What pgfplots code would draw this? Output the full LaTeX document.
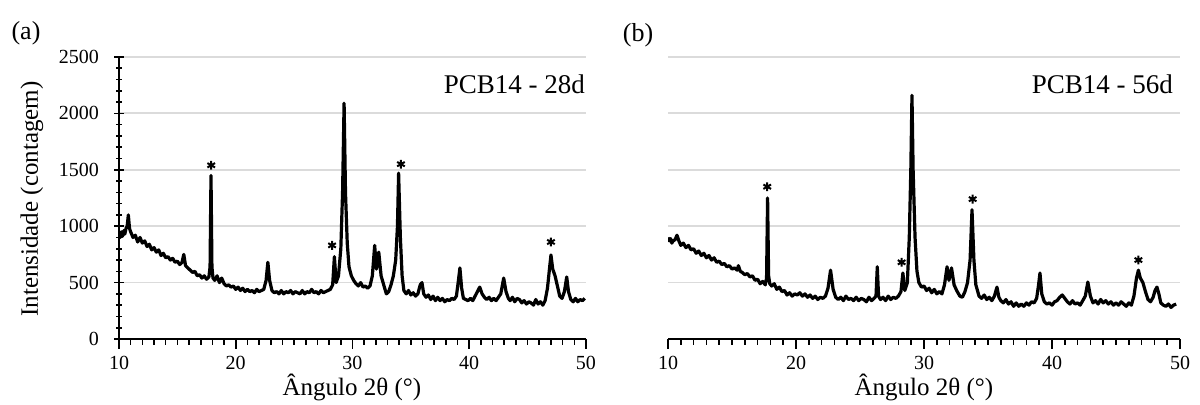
\documentclass[border=0pt]{standalone}
\usepackage{fontspec}
\setmainfont{Liberation Serif}
\usepackage{pgfplots}
\pgfplotsset{compat=1.18}

\pgfplotstableread{
x y
10.0 920
10.1 900
10.2 950
10.3 910
10.4 960
10.5 930
10.6 980
10.7 1000
10.8 1100
10.9 980
11.0 950
11.2 900
11.4 920
11.6 860
11.8 900
12.0 850
12.2 870
12.4 820
12.6 840
12.8 790
13.0 810
13.2 770
13.4 790
13.6 740
13.8 760
14.0 720
14.2 730
14.4 700
14.6 715
14.8 680
15.0 690
15.2 660
15.4 680
15.55 750
15.7 650
15.9 630
16.1 610
16.3 590
16.5 600
16.7 560
16.9 570
17.1 540
17.3 560
17.5 530
17.7 550
17.8 640
17.88 1450
17.96 640
18.05 540
18.2 520
18.4 560
18.6 500
18.8 540
19.0 490
19.2 470
19.4 480
19.6 460
19.8 470
20.0 440
20.2 460
20.4 430
20.6 450
20.8 420
21.0 440
21.2 420
21.4 430
21.6 410
21.8 440
22.0 420
22.2 430
22.4 440
22.6 520
22.75 680
22.9 520
23.1 430
23.3 410
23.5 420
23.7 400
23.9 430
24.1 400
24.3 420
24.5 410
24.7 430
24.9 400
25.1 420
25.3 410
25.5 400
25.7 430
25.9 400
26.1 420
26.3 410
26.5 440
26.7 410
26.9 420
27.1 400
27.3 430
27.5 410
27.7 420
27.9 430
28.1 440
28.3 480
28.45 730
28.6 500
28.8 560
29.0 800
29.15 1300
29.28 2090
29.4 1300
29.55 850
29.7 640
29.9 560
30.1 520
30.3 490
30.5 470
30.7 500
30.9 460
31.1 470
31.3 450
31.5 470
31.7 560
31.9 830
32.05 620
32.25 770
32.45 560
32.7 470
32.9 400
33.1 420
33.3 480
33.5 560
33.7 700
33.85 1000
33.95 1470
34.1 900
34.25 560
34.4 430
34.6 400
34.8 430
35.0 390
35.2 410
35.4 380
35.6 400
35.8 480
35.95 500
36.1 400
36.3 370
36.5 390
36.7 350
36.9 380
37.1 340
37.3 370
37.5 340
37.7 360
37.9 330
38.1 350
38.3 340
38.5 360
38.7 350
38.9 380
39.05 500
39.2 630
39.35 450
39.5 360
39.7 350
39.9 340
40.1 360
40.3 340
40.5 380
40.7 420
40.9 460
41.1 400
41.3 370
41.5 350
41.7 370
41.9 340
42.1 360
42.3 340
42.5 370
42.7 400
42.95 540
43.15 420
43.35 360
43.5 340
43.7 370
43.9 330
44.1 360
44.3 350
44.5 320
44.7 340
44.9 310
45.1 330
45.3 320
45.5 300
45.7 350
45.9 310
46.1 330
46.3 300
46.5 340
46.7 450
46.9 650
47.0 745
47.15 620
47.35 560
47.55 470
47.75 380
47.95 360
48.15 420
48.35 550
48.5 420
48.7 350
48.9 330
49.1 360
49.3 330
49.5 350
49.7 340
49.9 360
}\dataA

\pgfplotstableread{
x y
10.0 900
10.1 870
10.2 890
10.3 850
10.4 870
10.55 880
10.7 920
10.85 870
11.0 830
11.2 850
11.4 810
11.6 830
11.8 790
12.0 800
12.2 760
12.4 780
12.6 740
12.8 760
13.0 720
13.2 740
13.4 700
13.6 720
13.8 680
14.0 690
14.2 660
14.4 670
14.6 640
14.8 650
15.0 620
15.2 630
15.4 610
15.5 650
15.65 600
15.8 590
16.0 570
16.2 580
16.4 550
16.6 560
16.8 520
17.0 530
17.2 490
17.4 510
17.6 480
17.7 540
17.78 1250
17.86 560
17.95 490
18.1 470
18.3 490
18.5 440
18.7 460
18.9 420
19.1 430
19.3 390
19.5 410
19.7 380
19.9 400
20.1 390
20.3 410
20.5 380
20.7 400
20.9 370
21.1 390
21.3 360
21.5 380
21.7 350
21.9 370
22.1 360
22.3 380
22.5 450
22.7 610
22.9 440
23.1 370
23.3 350
23.5 370
23.7 340
23.9 380
24.1 350
24.3 360
24.5 340
24.7 370
24.9 340
25.1 360
25.3 350
25.5 330
25.7 370
25.9 340
26.1 360
26.25 380
26.35 640
26.45 380
26.6 350
26.8 370
27.0 340
27.2 380
27.4 350
27.6 370
27.8 360
28.0 380
28.2 420
28.35 585
28.5 430
28.7 500
28.85 900
28.97 1500
29.06 2160
29.15 1500
29.3 900
29.45 600
29.6 500
29.8 460
30.0 470
30.2 430
30.4 450
30.6 410
30.8 440
31.0 400
31.2 420
31.4 400
31.6 480
31.8 640
31.95 520
32.15 630
32.35 480
32.55 430
32.8 380
33.0 370
33.2 420
33.4 500
33.6 700
33.75 1145
33.9 700
34.05 480
34.3 380
34.5 360
34.7 390
34.9 350
35.1 370
35.3 340
35.5 380
35.7 460
35.85 370
36.0 340
36.2 320
36.4 350
36.6 310
36.8 330
37.0 290
37.2 320
37.4 290
37.6 310
37.8 290
38.0 320
38.2 300
38.4 330
38.6 320
38.8 360
38.95 480
39.06 585
39.2 400
39.4 330
39.6 310
39.8 320
40.0 300
40.2 330
40.4 340
40.6 370
40.8 390
41.0 360
41.2 330
41.4 310
41.6 340
41.8 310
42.0 320
42.2 300
42.4 340
42.6 380
42.8 505
43.0 380
43.2 320
43.4 340
43.6 310
43.8 350
44.0 320
44.2 340
44.4 310
44.6 330
44.8 300
45.0 320
45.2 300
45.4 330
45.6 310
45.8 290
46.0 320
46.2 300
46.4 380
46.6 540
46.75 610
46.9 540
47.1 500
47.3 420
47.5 350
47.7 330
47.9 370
48.05 430
48.2 460
48.35 400
48.5 320
48.7 300
48.9 290
49.1 310
49.3 280
49.5 300
49.7 310
}\dataB

\pgfplotstableread{
x y
17.9 1540
28.25 830
34.15 1550
47.0 860
}\starsA

\pgfplotstableread{
x y
17.75 1350
28.25 680
33.8 1240
46.75 700
}\starsB

\pgfplotsset{
  xrd/.style={
    scale only axis, height=141pt,
    xmin=10, xmax=50, ymin=0, ymax=2500,
    axis x line=bottom,
    xtick={10,20,...,50}, minor x tick num=9,
    ytick={0,500,...,2500},
    tick align=outside,
    major tick length=5pt, minor tick length=3pt,
    tick style={black, line width=0.8pt},
    ymajorgrids,
    grid style={black!14, line width=0.9pt},
    /pgf/number format/assume math mode=true,
    /pgf/number format/1000 sep={},
    scaled ticks=false,
    ticklabel style={font=\fontsize{10}{12}\selectfont},
  },
  xrdline/.style={black, line width=1.6pt, line join=round, no marks},
  xrdstar/.style={only marks, mark=asterisk, mark size=2.2pt, mark options={black, line width=1pt}},
}

\begin{document}
\begin{tikzpicture}
\useasboundingbox (0,0) rectangle (600pt,202.5pt);

\begin{axis}[xrd, width=233.5pt, at={(59.5pt,33pt)}, anchor=south west,
  axis y line=left, minor y tick num=4,
  x axis line style={black, line width=0.9pt, -},
  y axis line style={black, line width=0.9pt, -},
  yticklabel style={xshift=-4pt}]
  \addplot[xrdline] table[x=x,y=y] {\dataA};
  \addplot[xrdstar] table[x=x,y=y] {\starsA};
\end{axis}

\begin{axis}[xrd, width=256pt, at={(334pt,33pt)}, anchor=south west,
  axis y line*=left,
  x axis line style={black, line width=0.9pt, -},
  y axis line style={draw=none},
  ytick style={draw=none}, yticklabels={}, minor y tick num=0]
  \addplot[xrdline] table[x=x,y=y] {\dataB};
  \addplot[xrdstar] table[x=x,y=y] {\starsB};
\end{axis}

\node[font=\fontsize{13}{15}\selectfont] at (13pt,186pt) {(a)};
\node[font=\fontsize{13}{15}\selectfont] at (319pt,185pt) {(b)};
\node[rotate=90, font=\fontsize{12.5}{14}\selectfont] at (16pt,103pt) {Intensidade (contagem)};
\node[font=\fontsize{12.5}{14}\selectfont] at (176pt,9pt) {Ângulo 2θ (°)};
\node[font=\fontsize{12.5}{14}\selectfont] at (462pt,9pt) {Ângulo 2θ (°)};
\node[font=\fontsize{13.5}{15}\selectfont, anchor=east] at (296pt,160.5pt) {PCB14 - 28d};
\node[font=\fontsize{13.5}{15}\selectfont, anchor=east] at (590pt,160.5pt) {PCB14 - 56d};
\end{tikzpicture}
\end{document}
